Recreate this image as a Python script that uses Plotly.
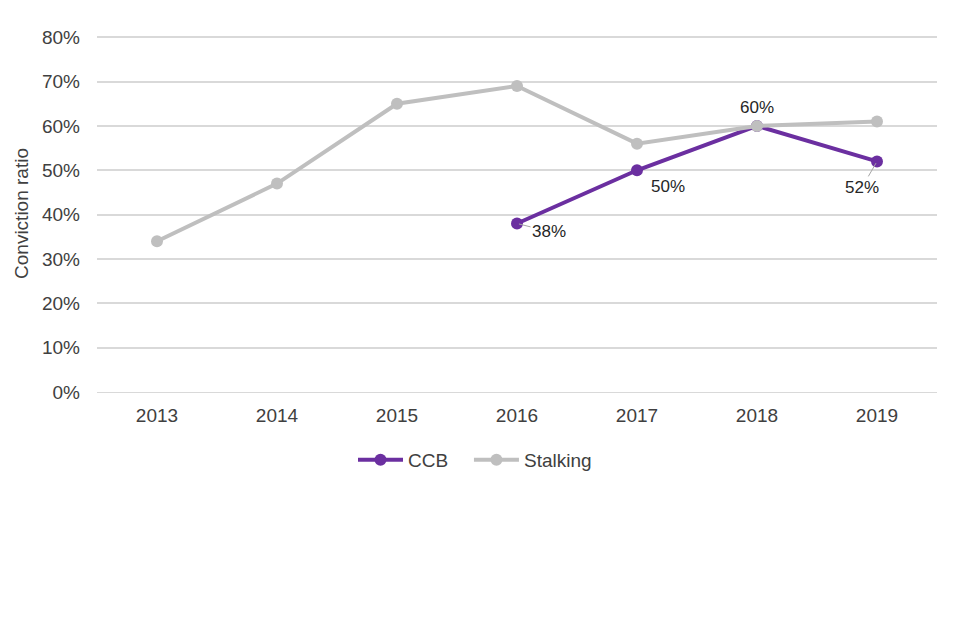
import plotly.graph_objects as go

years = ["2013", "2014", "2015", "2016", "2017", "2018", "2019"]
ccb_years = ["2016", "2017", "2018", "2019"]
ccb = [38, 50, 60, 52]
stalking = [34, 47, 65, 69, 56, 60, 61]
y_ticks = [0, 10, 20, 30, 40, 50, 60, 70, 80]

purple = "#6B2FA0"
grey = "#BFBFBF"
font = "Liberation Sans, Arial, sans-serif"

fig = go.Figure()
fig.add_trace(go.Scatter(x=ccb_years, y=ccb, name="CCB\u00a0\u00a0\u00a0", mode="lines+markers",
                         line=dict(color=purple, width=4), marker=dict(size=12, color=purple)))
fig.add_trace(go.Scatter(x=years, y=stalking, name="Stalking", mode="lines+markers",
                         line=dict(color=grey, width=4), marker=dict(size=12, color=grey)))

# data labels for CCB
label_offsets = {"2016": (32, 8, True), "2017": (31, 16, False), "2018": (0, -18, False), "2019": (-15, 26, True)}
for yr, v in zip(ccb_years, ccb):
    ax, ay, arrow = label_offsets[yr]
    xi = years.index(yr)
    if arrow:
        fig.add_annotation(x=xi, y=v, text=f"{v}%", showarrow=True, ax=ax, ay=ay,
                           arrowhead=0, arrowwidth=1, arrowcolor="#A6A6A6", standoff=2,
                           font=dict(size=17, color="#262626", family=font))
    else:
        fig.add_annotation(x=xi, y=v, text=f"{v}%", showarrow=False, xshift=ax, yshift=-ay,
                           font=dict(size=17, color="#262626", family=font))

fig.update_layout(
    width=960, height=640,
    margin=dict(l=89, r=31, t=27, b=256),
    plot_bgcolor="white", paper_bgcolor="white",
    font=dict(family=font, size=19, color="#404040"),
    showlegend=True,
    legend=dict(orientation="h", x=0.45, xanchor="center", y=-0.19, yanchor="middle",
                itemwidth=45,
                font=dict(size=19, color="#404040")),
    xaxis=dict(type="category", categoryorder="array", categoryarray=years,
               range=[-0.5, 6.5], automargin=False,
               showgrid=False, showline=True, linecolor="#D9D9D9", linewidth=1,
               ticks="", ticklabelstandoff=6, tickfont=dict(size=19, color="#404040")),
    yaxis=dict(range=[0, 80.5], tickvals=y_ticks, ticktext=[f"{t}%" for t in y_ticks],
               automargin=False,
               showgrid=True, gridcolor="#D9D9D9", gridwidth=1.5, zeroline=False,
               ticks="", ticklabelstandoff=16, tickfont=dict(size=19, color="#404040"),
               title=dict(text="Conviction ratio", font=dict(size=19, color="#404040"), standoff=8)),
)

fig.write_html("out.html")
